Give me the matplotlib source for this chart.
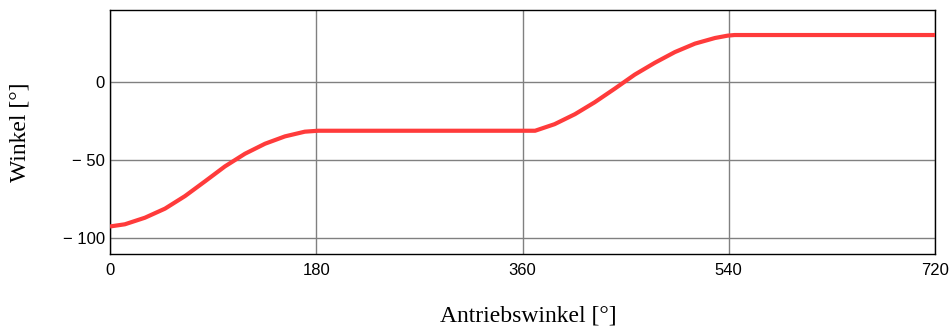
import matplotlib
matplotlib.use("Agg")
import matplotlib.pyplot as plt

# Data
antriebswinkel = [0, 13, 30.5, 48, 65.4, 83, 100.3, 117.8, 135.3, 152.7, 170, 181.5,
                  270, 353, 371, 388, 405.8, 423, 440.7, 458, 475.6, 493, 510.5, 528,
                  539, 545, 630, 720]
winkel = [-92.4, -91, -86.8, -81, -73, -63.5, -54, -45.9, -39.5, -34.8, -31.8, -31.2,
          -31.2, -31.2, -31.2, -27, -20.6, -13, -4.2, 4.7, 12.3, 19.1, 24.5, 28.1,
          29.6, 30, 30, 30]
x_ticks = [0, 180, 360, 540, 720]
y_ticks = [-100, -50, 0]
y_ticklabels = ["\u2212 100", "\u2212 50", "0"]

fig = plt.figure(figsize=(9.51, 3.30), dpi=100)
ax = fig.add_axes([110/951, 76/330, 825/951, 244/330])

ax.plot(antriebswinkel, winkel, color="#FF3B3B", lw=3.0, solid_capstyle="butt",
        solid_joinstyle="round", zorder=3)

ax.set_xlim(0, 720)
ax.set_ylim(-110, 46)
ax.set_xticks(x_ticks)
ax.set_xticklabels([str(v) for v in x_ticks], family="Liberation Sans", fontsize=12)
ax.set_yticks(y_ticks)
ax.set_yticklabels(y_ticklabels, family="Liberation Sans", fontsize=12)
ax.tick_params(axis="x", length=0, pad=6.5)
ax.tick_params(axis="y", length=0, pad=3.8)
ax.grid(True, color="#808080", lw=1.0)
ax.set_axisbelow(True)
for s in ax.spines.values():
    s.set_color("black")
    s.set_linewidth(1.0)

ax.set_xlabel("Antriebswinkel [\u00b0]", family="Liberation Serif", fontsize=17, va="center")
ax.xaxis.set_label_coords((528 - 110) / 825, -(316 - 254) / 244)
ax.set_ylabel("Winkel [\u00b0]", family="Liberation Serif", fontsize=17, va="center")
ax.yaxis.set_label_coords((20 - 110) / 825, 0.5)

fig.savefig("out.png", dpi=100)
